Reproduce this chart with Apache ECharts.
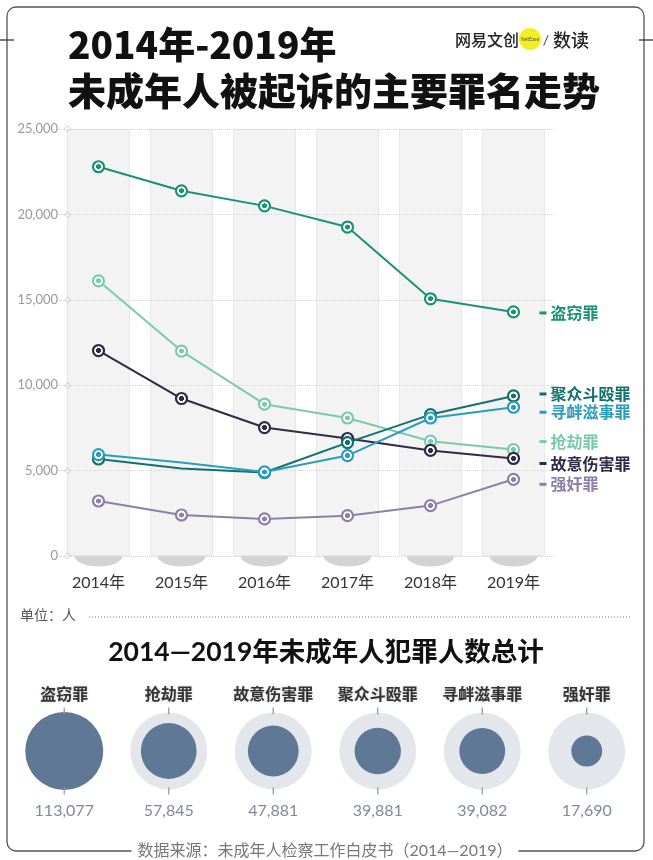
<!DOCTYPE html>
<html><head><meta charset="utf-8">
<script src="https://cdn.jsdelivr.net/npm/echarts@6/dist/echarts.min.js"></script>
<style>html,body{margin:0;padding:0;background:#fff}#c{width:653px;height:860px}</style>
</head><body><div id="c"></div><script>
// ---- data ----
const years = ['2014年','2015年','2016年','2017年','2018年','2019年'];
const yMax = 25000, yStep = 5000;
const theft     = [22790,21380,20500,19260,15060,14290];
const robbery   = [16110,12000,8890,8080,6720,6230];
const assault   = [12030,9220,7520,6880,6180,5710];
const affray    = [5680,5120,4890,6640,8280,9370];
const provoking = [5940,5470,4920,5880,8080,8710];
const rape      = [3220,2400,2170,2360,2950,4490];
const crimeNames = ['盗窃罪','抢劫罪','故意伤害罪','聚众斗殴罪','寻衅滋事罪','强奸罪'];
const totals     = [113077,57845,47881,39881,39082,17690];

const CJK = "'Noto Sans CJK SC'";
const LAT = "Lato, 'Noto Sans CJK SC'";

function target(c){
  return {type:'radial',x:0.5,y:0.5,r:0.5,colorStops:[
    {offset:0,color:c},{offset:0.36,color:c},{offset:0.40,color:'#fff'},{offset:1,color:'#fff'}]};
}
function lineSeries(name, data, color, dy, hideIdx){
  return {
    type:'line', name, z:5,
    data: data.map((v,i)=> hideIdx && hideIdx.includes(i) ? {value:v, symbol:'none'} : v),
    symbol:'circle', symbolSize:11,
    lineStyle:{color, width:2},
    itemStyle:{color: target(color), borderColor: color, borderWidth:2.2},
    emphasis:{disabled:true},
    endLabel:{show:true, distance:26, offset:[0,dy],
      formatter:'{b| }{t|'+name+'}',
      rich:{b:{width:7,height:3,backgroundColor:color},
            t:{color, fontSize:16, fontWeight:'bold', fontFamily:CJK, padding:[0,0,0,4]}}}
  };
}

const chart = echarts.init(document.getElementById('c'), null, {renderer:'canvas'});
const maxTotal = Math.max(...totals);

chart.setOption({
  animation:false,
  backgroundColor:'#fff',
  grid:[
    {left:57, right:98, top:129, bottom:304},
    {left:12, right:14, top:700, bottom:58}
  ],
  xAxis:[
    {type:'category', data:years, gridIndex:0, boundaryGap:true,
     axisLine:{show:false}, axisTick:{show:false},
     axisLabel:{color:'#333', fontSize:16, fontFamily:LAT, margin:19}},
    {type:'category', data:crimeNames, gridIndex:1, show:false}
  ],
  yAxis:[
    {type:'value', gridIndex:0, min:0, max:yMax, interval:yStep,
     axisLine:{show:false}, axisTick:{show:false},
     axisLabel:{margin:-14, formatter:v=>'{n|'+v.toLocaleString('en-US')+'}{d|◇}',
       rich:{n:{color:'#9a9a9a', fontSize:13, fontFamily:'Lato'},
             d:{color:'#c4c4c4', fontSize:9, fontFamily:'DejaVu Sans', padding:[0,0,0,6]}}},
     splitLine:{show:true, lineStyle:{type:'dotted', color:'#d6d6d6', width:1}}},
    {type:'value', gridIndex:1, min:-1, max:1, show:false}
  ],
  series:[
    // column bands
    {type:'bar', data:years.map(()=>yMax), barWidth:63, z:-1, silent:true,
     itemStyle:{color:'#f3f3f4', borderColor:'#e8e8ea', borderWidth:1}},
    // bottom ellipses
    {type:'scatter', data:years.map(()=>0), symbol:'circle', symbolSize:[48,21], z:-2, silent:true,
     itemStyle:{color:'#d3d3d3', opacity:1}},
    lineSeries('盗窃罪', theft, '#1b9273', 1, null),
    lineSeries('抢劫罪', robbery, '#7ccaae', -8, null),
    lineSeries('故意伤害罪', assault, '#2e2b47', 5, null),
    lineSeries('聚众斗殴罪', affray, '#13706f', -2, [1]),
    lineSeries('寻衅滋事罪', provoking, '#2a9dbb', 5, [1]),
    lineSeries('强奸罪', rape, '#8b80a8', 5, null),
    // bubble summary
    {type:'scatter', xAxisIndex:1, yAxisIndex:1, data:crimeNames.map(()=>0),
     symbol:'circle', symbolSize:77, silent:true, itemStyle:{color:'#e3e7ec', opacity:1},
     label:{show:true, position:'top', distance:11, formatter:p=>crimeNames[p.dataIndex],
       color:'#333', fontSize:16, fontWeight:'bold', fontFamily:CJK,
       textShadowColor:'rgba(0,0,0,0.18)', textShadowBlur:3}},
    {type:'scatter', xAxisIndex:1, yAxisIndex:1,
     data:totals.map((t,i)=>[i,0,t]),
     symbol:'circle', symbolSize:v=>78*Math.sqrt(v[2]/maxTotal), silent:true,
     itemStyle:{color:'#5e7895', opacity:1}},
    {type:'scatter', xAxisIndex:1, yAxisIndex:1, data:totals.map((t,i)=>[i,0,t]),
     symbol:'path://M0,0h1v7h-1z M0,80h1v7h-1z', symbolSize:[1.3,87], silent:true,
     itemStyle:{color:'#9a9a9a', opacity:1},
     label:{show:true, position:'bottom', distance:8,
       formatter:p=>p.value[2].toLocaleString('en-US'),
       color:'#7e8b9b', fontSize:16, fontFamily:'Lato'}}
  ],
  graphic:[
    {type:'rect', shape:{x:7,y:7,width:637,height:844,r:9}, style:{fill:'none',stroke:'#555',lineWidth:1.3}, z:0},
    {type:'line', shape:{x1:0,y1:40,x2:14,y2:40}, style:{stroke:'#333',lineWidth:1.3}},
    {type:'line', shape:{x1:639,y1:40,x2:653,y2:40}, style:{stroke:'#333',lineWidth:1.3}},
    {type:'text', x:68, y:45, style:{text:'2014年-2019年', font:"900 37px "+CJK, fill:'#111', textVerticalAlign:'middle'}},
    {type:'text', x:68, y:91, style:{text:'未成年人被起诉的主要罪名走势', font:"900 38px "+CJK, fill:'#111', textVerticalAlign:'middle'}},
    {type:'text', x:455, y:40, style:{text:'网易文创', font:"500 16px "+CJK, fill:'#222', textVerticalAlign:'middle'}},
    {type:'circle', shape:{cx:530,cy:39,r:11}, style:{fill:'#f3ee22'}},
    {type:'text', x:530, y:39, style:{text:'NetEase', font:"5px Lato", fill:'#555', textAlign:'center', textVerticalAlign:'middle'}},
    {type:'text', x:546, y:40, style:{text:'/', font:"14px "+LAT, fill:'#444', textAlign:'center', textVerticalAlign:'middle'}},
    {type:'text', x:553, y:40, style:{text:'数读', font:"500 18px "+CJK, fill:'#222', textVerticalAlign:'middle'}},
    {type:'text', x:20, y:615, style:{text:'单位：人', font:"14px "+CJK, fill:'#555', textVerticalAlign:'middle'}},
    {type:'line', shape:{x1:89,y1:617,x2:632,y2:617}, style:{stroke:'#777',lineWidth:1,lineDash:[1,2]}},
    {type:'text', x:326, y:652, style:{text:'2014—2019年未成年人犯罪人数总计', font:"bold 26.5px "+LAT, fill:'#111', textAlign:'center', textVerticalAlign:'middle'}},
    {type:'text', x:325, y:851, style:{text:'数据来源：未成年人检察工作白皮书（2014—2019）', font:"16px "+LAT, fill:'#777', textAlign:'center', textVerticalAlign:'middle', backgroundColor:'#fff', padding:[2,6]}}
  ]
});
</script></body></html>
